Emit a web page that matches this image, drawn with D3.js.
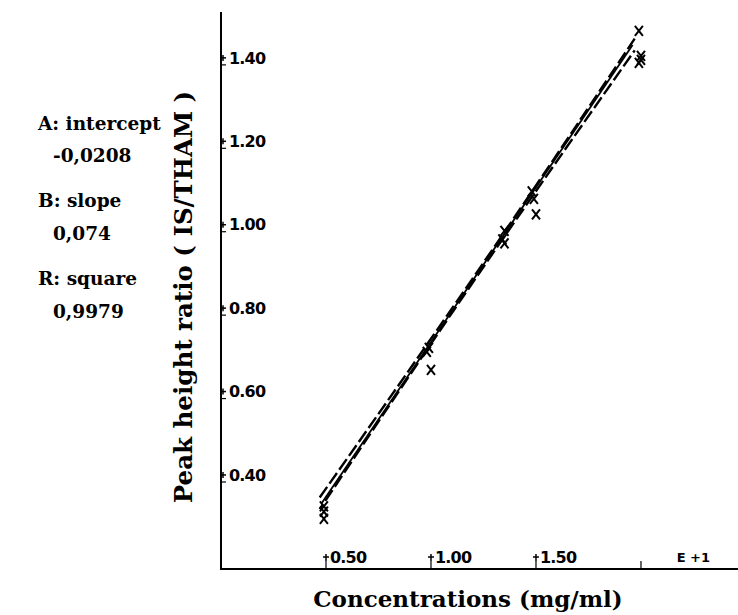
<!DOCTYPE html>
<html>
<head>
<meta charset="utf-8">
<script src="https://cdn.jsdelivr.net/npm/d3@7"></script>
<style>
  html, body { margin: 0; padding: 0; background: #fff; }
  svg { display: block; }
</style>
</head>
<body>
<svg id="chart" width="738" height="615"></svg>
<script>
// ---- data (concentration in E+1 mg/ml, peak height ratio) ----
const pointX = [0.49, 0.49, 0.49, 0.99, 0.98, 1.00, 1.35, 1.34, 1.35, 1.48, 1.49, 1.50, 1.99, 2.00, 2.00, 1.99];
const pointY = [0.325, 0.312, 0.295, 0.705, 0.695, 0.652, 0.985, 0.965, 0.955, 1.080, 1.062, 1.025, 1.465, 1.405, 1.395, 1.388];

const fitX = [0.48, 1.96];
const fitY = [0.333, 1.431];

const bandX = [0.47, 1.22, 1.97];
const bandUpper = [0.346, 0.887, 1.446];
const bandLower = [0.318, 0.877, 1.418];

const yTicks = [0.40, 0.60, 0.80, 1.00, 1.20, 1.40];
const yTickLabels = ["0.40", "0.60", "0.80", "1.00", "1.20", "1.40"];
const xTicks = [0.5, 1.0, 1.5, 2.0];
const xTickLabels = ["0.50", "1.00", "1.50", ""];
const xExponentLabel = "E +1";

const statsLines = [
  { text: "A: intercept", indent: false },
  { text: "-0,0208", indent: true },
  { text: "B: slope", indent: false },
  { text: "0,074", indent: true },
  { text: "R: square", indent: false },
  { text: "0,9979", indent: true }
];
const statsY = [130, 162, 207, 240, 285, 318];

const xTitle = "Concentrations (mg/ml)";
const yTitle = "Peak height ratio ( IS/THAM )";

// ---- layout ----
const svg = d3.select("#chart");
const plotLeft = 221, plotBottom = 569, plotTop = 12, plotRight = 738;

const x = d3.scaleLinear().domain([0, 2.462]).range([plotLeft, plotRight]);
const y = d3.scaleLinear().domain([0.1746, 1.51]).range([plotBottom, plotTop]);

const ink = "#000";
const serif = "'DejaVu Serif', 'Liberation Serif', serif";
const sans = "'DejaVu Sans', 'Liberation Sans', sans-serif";

svg.append("rect").attr("width", 738).attr("height", 615).attr("fill", "#fff");

// axes lines
svg.append("line").attr("x1", plotLeft).attr("x2", plotLeft).attr("y1", plotTop).attr("y2", plotBottom + 1)
  .attr("stroke", ink).attr("stroke-width", 2);
svg.append("line").attr("x1", plotLeft - 1).attr("x2", plotRight).attr("y1", plotBottom).attr("y2", plotBottom)
  .attr("stroke", ink).attr("stroke-width", 2);

// y ticks
const yt = svg.append("g");
yTicks.forEach((v, i) => {
  const py = y(v);
  yt.append("line").attr("x1", plotLeft - 1).attr("x2", plotLeft + 5).attr("y1", py).attr("y2", py)
    .attr("stroke", ink).attr("stroke-width", 1.5);
  yt.append("line").attr("x1", plotLeft + 2).attr("x2", plotLeft + 2).attr("y1", py - 3).attr("y2", py + 3)
    .attr("stroke", ink).attr("stroke-width", 1.5);
  yt.append("line").attr("x1", plotLeft).attr("x2", plotLeft + 5).attr("y1", py + 7).attr("y2", py + 7)
    .attr("stroke", ink).attr("stroke-width", 1.2);
  yt.append("text").attr("x", plotLeft + 8).attr("y", py).attr("dy", "0.36em")
    .attr("font-family", sans).attr("font-weight", "bold").attr("font-size", 16)
    .attr("letter-spacing", -0.8).attr("fill", ink).text(yTickLabels[i]);
});

// x ticks
const xt = svg.append("g");
xTicks.forEach((v, i) => {
  const px = x(v);
  xt.append("line").attr("x1", px).attr("x2", px).attr("y1", plotBottom).attr("y2", plotBottom - 8)
    .attr("stroke", ink).attr("stroke-width", 1.2);
  if (xTickLabels[i]) {
    xt.append("line").attr("x1", px - 3).attr("x2", px + 3).attr("y1", plotBottom - 12).attr("y2", plotBottom - 12)
      .attr("stroke", ink).attr("stroke-width", 1.5);
    xt.append("line").attr("x1", px).attr("x2", px).attr("y1", plotBottom - 15).attr("y2", plotBottom - 8)
      .attr("stroke", ink).attr("stroke-width", 1.5);
    xt.append("text").attr("x", px + 4).attr("y", plotBottom - 12).attr("dy", "0.36em")
      .attr("font-family", sans).attr("font-weight", "bold").attr("font-size", 16)
      .attr("letter-spacing", -0.8).attr("fill", ink).text(xTickLabels[i]);
  }
});
xt.append("text").attr("x", x(2.17)).attr("y", plotBottom - 12).attr("dy", "0.36em")
  .attr("font-family", sans).attr("font-weight", "bold").attr("font-size", 13)
  .attr("fill", ink).text(xExponentLabel);

// lines
const line = d3.line().x(d => x(d[0])).y(d => y(d[1]));
const curved = d3.line().x(d => x(d[0])).y(d => y(d[1])).curve(d3.curveNatural);

svg.append("path").datum(bandX.map((v, i) => [v, bandUpper[i]]))
  .attr("d", curved).attr("fill", "none").attr("stroke", ink).attr("stroke-width", 2.4)
  .attr("stroke-dasharray", "13,4");
svg.append("path").datum(bandX.map((v, i) => [v, bandLower[i]]))
  .attr("d", curved).attr("fill", "none").attr("stroke", ink).attr("stroke-width", 2.4)
  .attr("stroke-dasharray", "13,4").attr("stroke-dashoffset", 7);
svg.append("path").datum(fitX.map((v, i) => [v, fitY[i]]))
  .attr("d", line).attr("fill", "none").attr("stroke", ink).attr("stroke-width", 1.8);

// points (x markers)
const pts = svg.append("g");
pointX.forEach((v, i) => {
  const px = x(v), py = y(pointY[i]);
  pts.append("path")
    .attr("d", `M${px - 4},${py - 5}L${px + 4},${py + 5}M${px + 4},${py - 5}L${px - 4},${py + 5}`)
    .attr("stroke", ink).attr("stroke-width", 2).attr("fill", "none");
});

// axis titles
svg.append("text").attr("x", 468).attr("y", 607).attr("text-anchor", "middle")
  .attr("font-family", serif).attr("font-weight", "bold").attr("font-size", 23)
  .attr("fill", ink).text(xTitle);
svg.append("text").attr("transform", "translate(192,297) rotate(-90)").attr("text-anchor", "middle")
  .attr("font-family", serif).attr("font-weight", "bold").attr("font-size", 24.5)
  .attr("fill", ink).text(yTitle);

// stats
const st = svg.append("g");
statsLines.forEach((d, i) => {
  st.append("text").attr("x", d.indent ? 53 : 38).attr("y", statsY[i])
    .attr("font-family", serif).attr("font-weight", "bold").attr("font-size", 18.5)
    .attr("fill", ink).text(d.text);
});
</script>
</body>
</html>
